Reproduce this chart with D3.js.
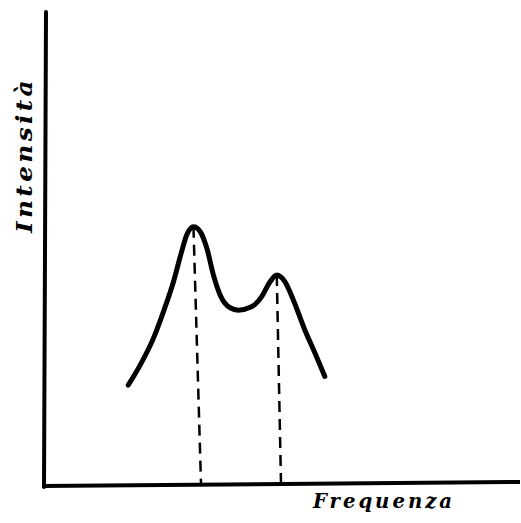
<!DOCTYPE html>
<html><head><meta charset="utf-8">
<script src="https://cdn.jsdelivr.net/npm/d3@7"></script>
<style>html,body{margin:0;padding:0;background:#fff;}svg{display:block;}</style>
</head><body>
<script>
// Hand-drawn spectrum: frequency (arbitrary units) vs intensity (arbitrary units)
const frequency = [17.7, 20.2, 23.0, 25.1, 27.2, 28.9, 30.0, 31.4, 32.8, 34.2, 35.6, 37.0, 39.1, 40.8, 43.6, 45.7, 47.5, 48.9, 50.6, 52.4, 54.8, 56.9, 59.0];
const intensity = [21.3, 25.5, 31.2, 36.8, 43.1, 49.4, 53.0, 54.7, 53.7, 50.2, 44.5, 40.3, 37.6, 37.1, 37.8, 39.9, 43.1, 44.5, 43.1, 39.2, 32.9, 28.1, 23.1];
const peakFrequency = [31.4, 48.9];
const peakIntensity = [54.7, 44.5];
const peakBaseFrequency = [33.0, 49.8];
const xLabel = "Frequenza";
const yLabel = "Intensità";

const W = 521, H = 523;
const svg = d3.select("body").append("svg").attr("width", W).attr("height", H);

const x = d3.scaleLinear().domain([0, 100]).range([44, 520]);
const y = d3.scaleLinear().domain([0, 100]).range([486, 12]);

// dashed peak markers
svg.selectAll("line.peak").data(peakFrequency).enter().append("line")
  .attr("class", "peak")
  .attr("x1", (d) => x(d)).attr("y1", (d, i) => y(peakIntensity[i]))
  .attr("x2", (d, i) => x(peakBaseFrequency[i])).attr("y2", y(0))
  .attr("stroke", "#000").attr("stroke-width", 2.5)
  .attr("stroke-dasharray", "11,7");

// curve
const pts = frequency.map((f, i) => [f, intensity[i]]);
svg.append("path").datum(pts)
  .attr("d", d3.line().x(d => x(d[0])).y(d => y(d[1])).curve(d3.curveMonotoneX))
  .attr("fill", "none").attr("stroke", "#000").attr("stroke-width", 5)
  .attr("stroke-linecap", "round").attr("stroke-linejoin", "round");

// axes
svg.append("line").attr("x1", x(0)).attr("y1", y(0) + 1).attr("x2", x(0) + 2).attr("y2", y(100))
  .attr("stroke", "#000").attr("stroke-width", 4).attr("stroke-linecap", "round");
svg.append("line").attr("x1", x(0) - 2).attr("y1", y(0)).attr("x2", x(100)).attr("y2", y(0) - 4)
  .attr("stroke", "#000").attr("stroke-width", 4);

// labels
svg.append("text").text(xLabel)
  .attr("x", 313).attr("y", 508)
  .attr("font-family", "'DejaVu Serif', serif").attr("font-style", "italic").attr("font-weight", "bold")
  .attr("font-size", 20).attr("letter-spacing", 3).attr("textLength", 142).attr("lengthAdjust", "spacingAndGlyphs");

svg.append("text").text(yLabel)
  .attr("transform", "translate(32,233) rotate(-90)")
  .attr("font-family", "'DejaVu Serif', serif").attr("font-style", "italic").attr("font-weight", "bold")
  .attr("font-size", 22).attr("letter-spacing", 3).attr("textLength", 156).attr("lengthAdjust", "spacingAndGlyphs");
</script>
</body></html>
